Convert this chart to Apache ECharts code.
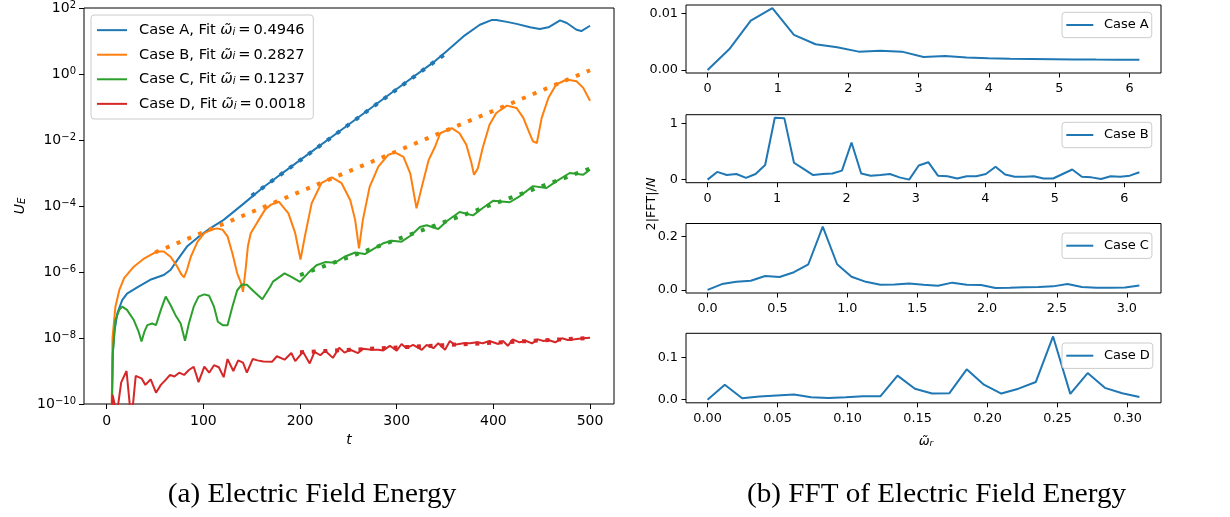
<!DOCTYPE html>
<html>
<head>
<meta charset="utf-8">
<script src="https://cdn.jsdelivr.net/npm/echarts@6/dist/echarts.min.js"></script>
<style>
  html, body { margin: 0; padding: 0; background: #fff; }
  #chart { width: 1230px; height: 517px; }
</style>
</head>
<body>
<div id="chart"></div>
<script>
// ---------- (a) electric field energy U_E(t) ----------
const caseNames = ['Case A', 'Case B', 'Case C', 'Case D'];
const fitRates = ['0.4946', '0.2827', '0.1237', '0.0018'];
const caseColors = ['#1f77b4', '#ff7f0e', '#2ca02c', '#d62728'];

const tA = [5, 6, 8, 11, 16, 21, 32, 45, 59, 66, 73, 83, 97, 107, 121, 142, 162, 200, 250, 300, 340, 348, 369, 386, 398, 403, 414, 424, 438, 448, 457, 469, 476, 486, 491, 500];
const uA = [2.0e-11, 2.5e-9, 1.6e-8, 5.6e-8, 1.4e-7, 2.2e-7, 3.5e-7, 5.8e-7, 8.1e-7, 1.15e-6, 2.3e-6, 5.9e-6, 1.3e-5, 2.1e-5, 3.8e-5, 1.2e-4, 3.7e-4, 2.45e-3, 2.9e-2, 0.35, 2.5, 4.0, 13.8, 31, 43, 43, 38, 33, 26, 23, 26, 42, 35, 22, 20, 29];

const tB = [5, 6, 9, 13, 18, 28, 39, 52, 59, 66, 73, 77, 80, 83, 87, 94, 101, 108, 114, 120, 125, 130, 135, 139, 141, 144, 146, 149, 156, 164, 170, 178, 188, 195, 200.5, 205, 212, 222, 233, 243, 252, 257, 261, 265, 272, 281, 291, 298, 307, 314, 320.5, 326, 333, 340, 345, 357, 365, 372, 377, 380, 384, 389, 396, 403, 414, 424, 431, 438, 441, 445, 450, 457, 465, 476, 486, 493, 500];
const uB = [2.0e-11, 1.0e-8, 8.9e-8, 2.8e-7, 6.5e-7, 1.45e-6, 2.6e-6, 4.2e-6, 4.2e-6, 2.9e-6, 1.45e-6, 8.7e-7, 6.9e-7, 1.15e-6, 2.9e-6, 8.3e-6, 1.5e-5, 1.9e-5, 2.1e-5, 1.9e-5, 1.2e-5, 3.7e-6, 9.1e-7, 4.6e-7, 2.5e-7, 1.45e-6, 5.9e-6, 1.5e-5, 3.3e-5, 7.9e-5, 1.1e-4, 1.35e-4, 6.0e-5, 1.5e-5, 2.4e-6, 1.2e-5, 1.2e-4, 4.9e-4, 7.4e-4, 4.9e-4, 1.5e-4, 3.8e-5, 5.2e-6, 3.8e-5, 3.8e-4, 1.55e-3, 3.5e-3, 4.2e-3, 3.1e-3, 9.8e-4, 8.5e-5, 3.8e-4, 2.45e-3, 6.6e-3, 1.6e-2, 2.3e-2, 1.6e-2, 7.2e-3, 2.2e-3, 8.9e-4, 1.4e-3, 5.8e-3, 2.9e-2, 6.6e-2, 0.11, 0.093, 0.047, 0.0145, 9.1e-3, 8.1e-3, 0.047, 0.19, 0.48, 0.68, 0.60, 0.38, 0.155];

const tC = [5, 6.5, 9, 13, 16, 21, 28, 33, 36, 39, 42, 47, 51, 56, 61, 66, 71, 76.5, 81, 85, 90, 95, 101, 106, 111, 115, 120, 125, 130, 135, 140, 145, 152, 161, 169, 172, 184, 191, 200, 208, 217, 226, 236, 246, 257, 267, 277, 286, 295, 305, 315, 324, 331, 343, 352, 365, 379, 389, 400, 417, 427, 441, 455, 465, 479, 493, 500];
const uC = [2.0e-11, 4.4e-9, 3.5e-8, 7.1e-8, 8.9e-8, 7.1e-8, 3.5e-8, 1.55e-8, 7.8e-9, 1.55e-8, 2.45e-8, 2.75e-8, 2.45e-8, 7.1e-8, 1.8e-7, 1.0e-7, 5.0e-8, 2.75e-8, 8.3e-9, 2.75e-8, 8.9e-8, 1.8e-7, 2.1e-7, 1.9e-7, 8.9e-8, 3.1e-8, 2.45e-8, 2.45e-8, 8.9e-8, 2.8e-7, 4.2e-7, 4.1e-7, 2.6e-7, 1.5e-7, 3.5e-7, 5.1e-7, 9.1e-7, 7.1e-7, 5.0e-7, 9.1e-7, 1.6e-6, 2.0e-6, 1.9e-6, 2.9e-6, 3.9e-6, 3.5e-6, 5.2e-6, 7.4e-6, 8.9e-6, 8.3e-6, 1.3e-5, 2.3e-5, 2.6e-5, 2.0e-5, 3.5e-5, 6.6e-5, 5.2e-5, 8.7e-5, 1.45e-4, 1.3e-4, 1.95e-4, 4.0e-4, 3.5e-4, 5.6e-4, 1.0e-3, 8.9e-4, 1.26e-3];

const tD = [5, 6, 10.5, 15, 20.5, 25.5, 30, 36, 40, 45.5, 51, 56, 61, 65.5, 70, 75, 80, 85, 90, 95, 101, 106, 111, 116, 121, 125, 131, 136, 141, 145, 151, 156, 162, 171, 176, 184, 191, 195, 203, 210, 215, 221, 226, 234, 240.5, 246, 252, 260, 265, 274, 281, 286, 293, 300, 305, 310, 317, 326, 331, 338, 343, 350, 355, 360, 369, 376, 383, 389, 396, 405, 410, 415, 420, 427, 434, 440, 446, 452, 457, 464, 471, 477, 484, 493, 500];
const uD = [1e-11, 1.9e-10, 5e-11, 4.5e-10, 1.0e-9, 3e-11, 7.1e-10, 6.0e-10, 3.8e-10, 5.6e-10, 2.2e-10, 3.8e-10, 5.4e-10, 7.6e-10, 6.8e-10, 8.9e-10, 7.6e-10, 1.07e-9, 1.35e-9, 4.6e-10, 1.35e-9, 8.9e-10, 1.5e-9, 1.3e-9, 6.5e-10, 2.3e-9, 1.0e-9, 2.1e-9, 1.8e-9, 8.9e-10, 2.3e-9, 2.1e-9, 1.95e-9, 1.9e-9, 2.8e-9, 2.2e-9, 3.5e-9, 2.0e-9, 3.8e-9, 1.7e-9, 3.8e-9, 3.0e-9, 4.1e-9, 2.5e-9, 5.1e-9, 3.6e-9, 4.4e-9, 3.5e-9, 4.7e-9, 4.4e-9, 4.4e-9, 4.2e-9, 5.8e-9, 4.1e-9, 6.6e-9, 4.9e-9, 6.2e-9, 4.4e-9, 6.2e-9, 4.9e-9, 6.9e-9, 4.4e-9, 8.1e-9, 6.2e-9, 6.9e-9, 6.9e-9, 7.4e-9, 6.9e-9, 8.1e-9, 6.6e-9, 8.1e-9, 5.8e-9, 9.1e-9, 7.4e-9, 8.1e-9, 6.9e-9, 9.1e-9, 8.1e-9, 8.7e-9, 7.4e-9, 9.8e-9, 8.7e-9, 9.1e-9, 9.8e-9, 1.02e-8];

// exponential fits: end points of each straight line on the log scale
const fitT = [[150, 350], [50, 500], [200, 500], [200, 500]];
const fitU = [[2.04e-4, 4.04], [3.9e-6, 1.30], [8.1e-7, 1.36e-3], [3.7e-9, 1.0e-8]];

const tTicks = [0, 100, 200, 300, 400, 500];
const uTicks = [1e-10, 1e-8, 1e-6, 1e-4, 1e-2, 1, 100];

// ---------- (b) FFT of the field energy ----------
const wA = [0, 0.307, 0.614, 0.921, 1.228, 1.535, 1.842, 2.149, 2.456, 2.763, 3.070, 3.377, 3.684, 3.991, 4.298, 4.605, 4.912, 5.219, 5.526, 5.833, 6.140];
const fA = [0, 0.00367, 0.00876, 0.0110, 0.00622, 0.00456, 0.00403, 0.00325, 0.00343, 0.00325, 0.00231, 0.00249, 0.00219, 0.00207, 0.00200, 0.00195, 0.00190, 0.00186, 0.00183, 0.00181, 0.00180];

const wB = [0, 0.138, 0.276, 0.415, 0.553, 0.691, 0.829, 0.968, 1.106, 1.244, 1.382, 1.520, 1.659, 1.797, 1.935, 2.073, 2.212, 2.350, 2.488, 2.626, 2.764, 2.903, 3.041, 3.179, 3.317, 3.455, 3.594, 3.732, 3.870, 4.008, 4.147, 4.285, 4.423, 4.561, 4.699, 4.838, 4.976, 5.114, 5.252, 5.390, 5.528, 5.667, 5.805, 5.943, 6.081, 6.219];
const fB = [0, 0.137, 0.083, 0.10, 0.03, 0.10, 0.26, 1.10, 1.09, 0.30, 0.19, 0.08, 0.10, 0.11, 0.16, 0.66, 0.11, 0.07, 0.08, 0.10, 0.04, 0.0, 0.25, 0.31, 0.07, 0.06, 0.02, 0.06, 0.06, 0.10, 0.23, 0.09, 0.05, 0.05, 0.06, 0.02, 0.02, 0.10, 0.18, 0.05, 0.04, 0.01, 0.06, 0.05, 0.07, 0.13];

const wC = [0, 0.103, 0.206, 0.309, 0.412, 0.515, 0.618, 0.721, 0.824, 0.927, 1.030, 1.133, 1.236, 1.339, 1.442, 1.545, 1.648, 1.751, 1.854, 1.957, 2.060, 2.163, 2.266, 2.369, 2.472, 2.575, 2.678, 2.781, 2.884, 2.987, 3.090];
const fC = [0, 0.0216, 0.030, 0.034, 0.052, 0.048, 0.066, 0.096, 0.237, 0.096, 0.049, 0.030, 0.019, 0.020, 0.024, 0.019, 0.015, 0.027, 0.019, 0.018, 0.0065, 0.0075, 0.010, 0.011, 0.013, 0.022, 0.011, 0.008, 0.008, 0.009, 0.016];

const wD = [0, 0.0123, 0.0247, 0.0370, 0.0494, 0.0617, 0.0740, 0.0864, 0.0987, 0.1111, 0.1234, 0.1357, 0.1481, 0.1604, 0.1728, 0.1851, 0.1974, 0.2098, 0.2221, 0.2345, 0.2468, 0.2591, 0.2715, 0.2838, 0.2962, 0.3085];
const fD = [0, 0.0355, 0.0032, 0.0073, 0.0097, 0.012, 0.0056, 0.004, 0.0056, 0.008, 0.008, 0.057, 0.026, 0.0145, 0.0153, 0.072, 0.0355, 0.0145, 0.026, 0.042, 0.150, 0.0137, 0.063, 0.028, 0.0153, 0.0065];

const wTicksAB = [0, 1, 2, 3, 4, 5, 6];
const wTicksC = [0, 0.5, 1.0, 1.5, 2.0, 2.5, 3.0];
const wTicksD = [0, 0.05, 0.10, 0.15, 0.20, 0.25, 0.30];
const fTicksA = [0, 0.01];
const fTicksB = [0, 1];
const fTicksC = [0, 0.2];
const fTicksD = [0, 0.1];

// ---------- styling / layout ----------
const FONT = 'DejaVu Sans';
const INK = '#000';
const zip = (xs, ys) => xs.map((x, i) => [x, ys[i]]);

const leftBox = { left: 84, top: 8, width: 530, height: 396 };
const rightBoxes = [
  { left: 686, top: 5, width: 475, height: 68 },
  { left: 686, top: 114.7, width: 475, height: 68 },
  { left: 686, top: 223.5, width: 475, height: 69.5 },
  { left: 686, top: 333.3, width: 475, height: 69.5 }
];
const rightLegendTop = [12.3, 122.3, 233, 343];

const fftSets = [
  { w: wA, f: fA, x: [-0.307, 6.447], y: [-0.00055, 0.01155], xt: wTicksAB, xf: v => String(v), yt: fTicksA, yf: v => v.toFixed(2) },
  { w: wB, f: fB, x: [-0.311, 6.530], y: [-0.055, 1.155], xt: wTicksAB, xf: v => String(v), yt: fTicksB, yf: v => String(v) },
  { w: wC, f: fC, x: [-0.1545, 3.2445], y: [-0.0119, 0.249], xt: wTicksC, xf: v => v.toFixed(1), yt: fTicksC, yf: v => v.toFixed(1) },
  { w: wD, f: fD, x: [-0.0154, 0.3239], y: [-0.0075, 0.1575], xt: wTicksD, xf: v => v.toFixed(2), yt: fTicksD, yf: v => v.toFixed(1) }
];

function powLabel(v) {
  const e = Math.round(Math.log10(v));
  return '{b|10}{e|' + (e < 0 ? '\u2212' + (-e) : String(e)) + '}';
}

const legendNames = caseNames.map((c, i) => c + ', Fit \u03c9\u0303i = ' + fitRates[i]);

const grids = [Object.assign({ show: true, borderColor: INK, borderWidth: 1, backgroundColor: '#fff' }, leftBox)]
  .concat(rightBoxes.map(b => Object.assign({ show: true, borderColor: INK, borderWidth: 1 }, b)));

const hiddenLine = { show: false, onZero: false };

const xAxes = [{
  gridIndex: 0, type: 'value', min: -23.5, max: 524.8, position: 'bottom',
  axisLine: hiddenLine, splitLine: { show: false },
  axisTick: { show: true, length: 5, lineStyle: { color: INK, width: 1 }, customValues: tTicks },
  axisLabel: { customValues: tTicks, color: INK, fontFamily: FONT, fontSize: 14, margin: 10 }
}].concat(fftSets.map((s, i) => ({
  gridIndex: i + 1, type: 'value', min: s.x[0], max: s.x[1], position: 'bottom',
  axisLine: hiddenLine, splitLine: { show: false },
  axisTick: { show: true, length: 4.5, lineStyle: { color: INK, width: 1 }, customValues: s.xt },
  axisLabel: { customValues: s.xt, formatter: s.xf, color: INK, fontFamily: FONT, fontSize: 12.8, margin: 9 }
})));

const yAxes = [{
  gridIndex: 0, type: 'log', logBase: 10, min: 1e-10, max: 1e2, position: 'left',
  axisLine: hiddenLine, splitLine: { show: false }, minorTick: { show: false },
  axisTick: { show: true, length: 5, lineStyle: { color: INK, width: 1 }, customValues: uTicks },
  axisLabel: {
    customValues: uTicks, formatter: powLabel, color: INK, margin: 8,
    rich: {
      b: { fontFamily: FONT, fontSize: 14, lineHeight: 15.5, verticalAlign: 'bottom', color: INK },
      e: { fontFamily: FONT, fontSize: 10, lineHeight: 10, verticalAlign: 'top', color: INK }
    }
  }
}].concat(fftSets.map((s, i) => ({
  gridIndex: i + 1, type: 'value', min: s.y[0], max: s.y[1], position: 'left',
  axisLine: hiddenLine, splitLine: { show: false },
  axisTick: { show: true, length: 4.5, lineStyle: { color: INK, width: 1 }, customValues: s.yt },
  axisLabel: { customValues: s.yt, formatter: s.yf, color: INK, fontFamily: FONT, fontSize: 12.8, margin: 8 }
})));

const series = [];
const uSets = [[tA, uA], [tB, uB], [tC, uC], [tD, uD]];
uSets.forEach((d, i) => {
  series.push({
    name: legendNames[i], type: 'line', xAxisIndex: 0, yAxisIndex: 0,
    data: zip(d[0], d[1]), symbol: 'none', clip: true,
    color: caseColors[i],
    lineStyle: { color: caseColors[i], width: 2 },
    itemStyle: { color: caseColors[i] }
  });
  series.push({
    name: 'fit ' + caseNames[i], type: 'line', xAxisIndex: 0, yAxisIndex: 0,
    data: zip(fitT[i], fitU[i]), symbol: 'none', clip: true, silent: true,
    lineStyle: { color: caseColors[i], width: 4, type: [4, 7.7], cap: 'butt' }
  });
});
fftSets.forEach((s, i) => {
  series.push({
    name: caseNames[i], type: 'line', xAxisIndex: i + 1, yAxisIndex: i + 1,
    data: zip(s.w, s.f), symbol: 'none', clip: true,
    color: caseColors[0],
    lineStyle: { color: caseColors[0], width: 2 },
    itemStyle: { color: caseColors[0] }
  });
});

const legendFrame = {
  backgroundColor: 'rgba(255,255,255,0.8)', borderColor: '#cccccc', borderWidth: 1, borderRadius: 3,
  icon: 'rect', selectedMode: false, z: 10
};

const legends = [Object.assign({}, legendFrame, {
  data: legendNames, orient: 'vertical', left: 91, top: 15,
  padding: [7.65, 7.5, 7.65, 6], itemWidth: 30, itemHeight: 2, itemGap: 9.57,
  formatter: name => {
    const i = legendNames.indexOf(name);
    return '{n|' + caseNames[i] + ', Fit }{w|\u03c9\u0303}{s|i}{n|\u2009=\u2009' + fitRates[i] + '}';
  },
  textStyle: {
    padding: [0, 0, 0, 7],
    rich: {
      n: { fontFamily: FONT, fontSize: 14.6, lineHeight: 14, color: INK },
      w: { fontFamily: FONT, fontSize: 14.6, fontStyle: 'italic', lineHeight: 14, color: INK },
      s: { fontFamily: FONT, fontSize: 10.2, fontStyle: 'italic', lineHeight: 8, verticalAlign: 'bottom', color: INK }
    }
  }
})].concat(caseNames.map((c, i) => Object.assign({}, legendFrame, {
  data: [c], left: 1062, top: rightLegendTop[i],
  padding: [5.7, 3, 5.7, 4.3], itemWidth: 27, itemHeight: 2,
  textStyle: { fontFamily: FONT, fontSize: 13, lineHeight: 14, color: INK, padding: [0, 0, 0, 5.6] }
})));

const captionFont = '26.5px "Liberation Serif"';
const graphics = [
  { type: 'text', x: 349, y: 440, style: { text: 't', font: 'italic 14px "DejaVu Sans"', fill: INK, align: 'center', verticalAlign: 'middle' } },
  { type: 'text', x: 20, y: 206, rotation: Math.PI / 2,
    style: { text: '{u|U}{s|E}', align: 'center', verticalAlign: 'middle',
      rich: { u: { fontFamily: FONT, fontSize: 14, fontStyle: 'italic', lineHeight: 14, fill: INK },
              s: { fontFamily: FONT, fontSize: 10, fontStyle: 'italic', lineHeight: 8, verticalAlign: 'bottom', fill: INK } } } },
  { type: 'text', x: 926, y: 441.5,
    style: { text: '{w|\u03c9\u0303}{s|r}', align: 'center', verticalAlign: 'middle',
      rich: { w: { fontFamily: FONT, fontSize: 13, fontStyle: 'italic', lineHeight: 13, fill: INK },
              s: { fontFamily: FONT, fontSize: 9, fontStyle: 'italic', lineHeight: 7, verticalAlign: 'bottom', fill: INK } } } },
  { type: 'text', x: 652, y: 204, rotation: Math.PI / 2,
    style: { text: '{n|2|FFT|/}{i|N}', align: 'center', verticalAlign: 'middle',
      rich: { n: { fontFamily: FONT, fontSize: 12.8, lineHeight: 13, fill: INK },
              i: { fontFamily: FONT, fontSize: 12.8, fontStyle: 'italic', lineHeight: 13, fill: INK } } } },
  { type: 'text', x: 312, y: 495, scaleX: 1.1, style: { text: '(a) Electric Field Energy', font: captionFont, fill: INK, align: 'center', verticalAlign: 'middle' } },
  { type: 'text', x: 936.5, y: 495, scaleX: 1.1, style: { text: '(b) FFT of Electric Field Energy', font: captionFont, fill: INK, align: 'center', verticalAlign: 'middle' } }
];

const chart = echarts.init(document.getElementById('chart'), null, { renderer: 'canvas' });
chart.setOption({
  animation: false,
  backgroundColor: '#fff',
  grid: grids,
  xAxis: xAxes,
  yAxis: yAxes,
  legend: legends,
  series: series,
  graphic: graphics
});
</script>
</body>
</html>
